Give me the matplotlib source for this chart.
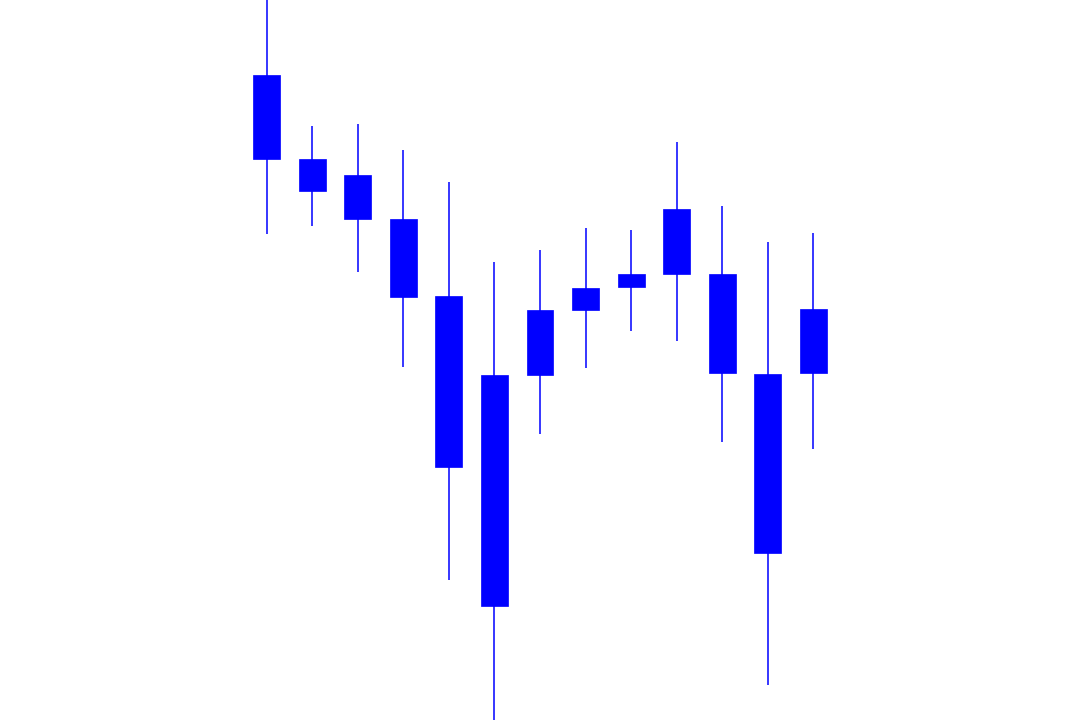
import matplotlib
matplotlib.use("Agg")
import matplotlib.pyplot as plt
import numpy as np

# OHLC (arbitrary price units)
opens = [64.5, 56.1, 54.5, 50.1, 42.45, 34.5, 34.5, 41.0, 43.3, 44.6, 44.6, 34.65, 34.7]
closes = [56.1, 52.9, 50.1, 42.3, 25.3, 11.4, 41.0, 43.25, 44.6, 51.1, 34.7, 16.7, 41.1]
highs = [74.0, 59.45, 59.6, 57.05, 53.8, 45.8, 47.0, 49.2, 49.0, 57.8, 51.45, 47.85, 48.75]
lows = [48.6, 49.4, 44.8, 35.3, 14.0, -1.0, 28.6, 35.2, 38.9, 37.9, 27.8, 3.5, 27.1]

COLOR = "#0000ff"
BODY_W = 0.59

fig = plt.figure(figsize=(10.8, 7.2), dpi=100)
ax = fig.add_axes([0, 0, 1, 1])

x = np.arange(len(opens))
bottoms = np.minimum(opens, closes)
heights = np.abs(np.array(closes) - np.array(opens))

# wicks first, bodies on top
ax.vlines(x, lows, highs, color=COLOR, linewidth=1.1)
ax.bar(x, heights, bottom=bottoms, width=BODY_W, color=COLOR, edgecolor=COLOR, linewidth=0.5)

ax.set_xlim(6 - 11.85, 6 + 11.85)
ax.set_ylim(0, 72)
ax.axis("off")

fig.savefig("out.png", dpi=100, facecolor="white")
